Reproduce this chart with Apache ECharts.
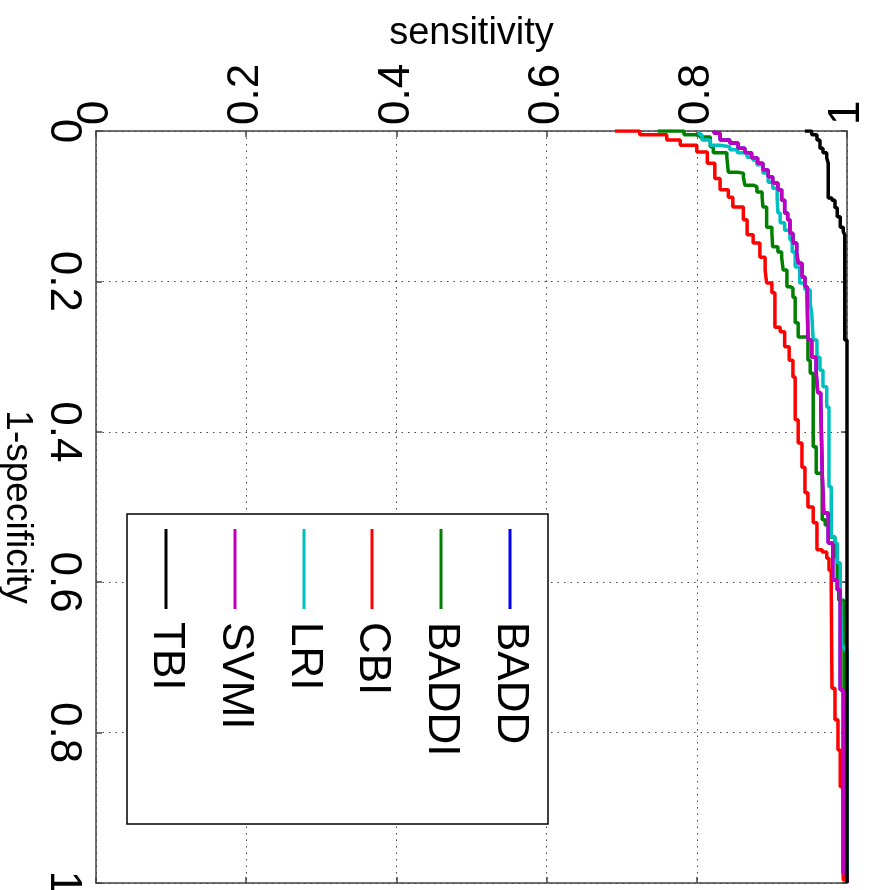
<!DOCTYPE html>
<html>
<head>
<meta charset="utf-8">
<script src="https://cdn.jsdelivr.net/npm/echarts@6/dist/echarts.min.js"></script>
<style>html,body{margin:0;padding:0;background:#fff;}#chart{width:877px;height:890px;}</style>
</head>
<body>
<div id="chart"></div>
<script>
// Data: each point is [sensitivity, 1-specificity]
const seriesNames = ['BADD', 'BADDI', 'CBI', 'LRI', 'SVMI', 'TBI'];
const seriesColors = ['#0000ff', '#008000', '#ff0000', '#00bfbf', '#bf00bf', '#000000'];
const axisTicks = [0, 0.2, 0.4, 0.6, 0.8, 1];
const axisTickLabels = ['0', '0.2', '0.4', '0.6', '0.8', '1'];

const svmi = [[0.822,0],[0.824,0.003],[0.831,0.012],[0.844,0.016],[0.855,0.023],[0.864,0.029],[0.873,0.036],[0.881,0.043],[0.888,0.052],[0.895,0.061],[0.901,0.069],[0.908,0.078],[0.913,0.092],[0.917,0.109],[0.921,0.118],[0.924,0.136],[0.928,0.149],[0.933,0.162],[0.935,0.176],[0.940,0.194],[0.944,0.207],[0.947,0.221],[0.948,0.278],[0.953,0.301],[0.959,0.322],[0.961,0.348],[0.965,0.358],[0.967,0.455],[0.969,0.508],[0.975,0.548],[0.981,0.597],[0.987,0.610],[0.991,0.743],[0.995,0.987],[1,1]];
const badd = [[0.822,0],[0.824,0.003],[0.831,0.012],[0.844,0.016],[0.855,0.023],[0.864,0.029],[0.873,0.036],[0.881,0.043],[0.888,0.052],[0.895,0.061],[0.901,0.069],[0.908,0.078],[0.913,0.092],[0.917,0.109],[0.921,0.118],[0.924,0.136],[0.928,0.149],[0.933,0.162],[0.935,0.176],[0.940,0.194],[0.944,0.207],[0.947,0.221],[0.948,0.278],[0.953,0.301],[0.959,0.322],[0.961,0.348],[0.965,0.358],[0.967,0.455],[0.969,0.508],[0.975,0.548],[0.981,0.597],[0.987,0.610],[0.991,0.743],[0.995,0.987],[1,1]];
const baddi = [[0.748,0],[0.780,0],[0.783,0.005],[0.800,0.005],[0.804,0.008],[0.818,0.021],[0.822,0.029],[0.840,0.035],[0.842,0.055],[0.854,0.056],[0.862,0.061],[0.864,0.072],[0.875,0.074],[0.880,0.081],[0.887,0.088],[0.888,0.101],[0.893,0.114],[0.893,0.128],[0.900,0.136],[0.901,0.154],[0.908,0.161],[0.913,0.168],[0.915,0.185],[0.920,0.207],[0.924,0.209],[0.928,0.221],[0.931,0.255],[0.935,0.274],[0.941,0.274],[0.948,0.282],[0.948,0.305],[0.951,0.322],[0.955,0.324],[0.955,0.420],[0.959,0.427],[0.959,0.455],[0.964,0.455],[0.967,0.464],[0.967,0.517],[0.971,0.524],[0.977,0.540],[0.984,0.547],[0.984,0.566],[0.987,0.570],[0.987,0.597],[0.989,0.601],[0.989,0.624],[0.996,0.641],[0.996,0.741],[1,0.746],[1,1]];
const cbi = [[0.691,0],[0.724,0.005],[0.760,0.012],[0.778,0.019],[0.800,0.028],[0.814,0.043],[0.824,0.063],[0.831,0.078],[0.842,0.088],[0.848,0.101],[0.862,0.118],[0.867,0.138],[0.875,0.149],[0.884,0.168],[0.891,0.185],[0.893,0.202],[0.900,0.215],[0.904,0.238],[0.904,0.261],[0.911,0.267],[0.917,0.287],[0.923,0.305],[0.928,0.327],[0.931,0.384],[0.935,0.415],[0.940,0.447],[0.944,0.481],[0.948,0.500],[0.955,0.508],[0.955,0.521],[0.960,0.557],[0.967,0.560],[0.973,0.568],[0.976,0.584],[0.979,0.606],[0.980,0.741],[0.984,0.783],[0.988,0.823],[0.991,0.872],[0.995,0.996],[1,1]];
const lri = [[0.802,0],[0.804,0.005],[0.807,0.012],[0.818,0.019],[0.831,0.021],[0.844,0.025],[0.854,0.029],[0.867,0.035],[0.875,0.039],[0.880,0.045],[0.888,0.056],[0.895,0.068],[0.901,0.076],[0.907,0.088],[0.908,0.109],[0.911,0.122],[0.917,0.132],[0.924,0.145],[0.927,0.161],[0.931,0.181],[0.937,0.202],[0.944,0.211],[0.951,0.229],[0.953,0.242],[0.955,0.278],[0.960,0.282],[0.960,0.301],[0.964,0.318],[0.968,0.340],[0.973,0.367],[0.976,0.473],[0.979,0.540],[0.984,0.548],[0.987,0.574],[0.991,0.610],[0.993,0.686],[0.997,0.690],[1,0.743],[1,1]];
const tbi = [[0.944,0],[0.953,0.005],[0.960,0.012],[0.964,0.023],[0.968,0.029],[0.973,0.036],[0.975,0.043],[0.975,0.089],[0.980,0.092],[0.984,0.102],[0.987,0.114],[0.991,0.128],[0.995,0.134],[0.997,0.138],[0.997,0.278],[1,0.281],[1,1]];

const seriesData = [badd, baddi, cbi, lri, svmi, tbi];

const FONT = '"Liberation Sans", Arial, Helvetica, sans-serif';
const chart = echarts.init(document.getElementById('chart'), null, {renderer: 'canvas', width: 877, height: 890});

const G = {left: 96, top: 131, width: 751, height: 752};
const axisColor = '#444';
const fmt = v => { const i = axisTicks.findIndex(t => Math.abs(t - v) < 1e-9); return i >= 0 ? axisTickLabels[i] : ''; };

const legendCols = [510, 441, 372, 304, 235, 166];
const legendGraphics = [{
  type: 'rect', shape: {x: 127, y: 514, width: 421, height: 310},
  style: {fill: '#fff', stroke: '#000', lineWidth: 1.5}, z: 100
}];
seriesNames.forEach((n, i) => {
  legendGraphics.push({type: 'line', shape: {x1: legendCols[i], y1: 529, x2: legendCols[i], y2: 609},
    style: {stroke: seriesColors[i], lineWidth: 3}, z: 101});
  legendGraphics.push({type: 'text', x: legendCols[i], y: 622, rotation: -Math.PI / 2,
    style: {text: n, fontSize: 44, fontFamily: FONT, fill: '#000', align: 'left', verticalAlign: 'middle'}, z: 101});
});

chart.setOption({
  animation: false,
  backgroundColor: '#fff',
  grid: {left: G.left, top: G.top, width: G.width, height: G.height, containLabel: false, outerBoundsMode: 'none'},
  xAxis: [{
    type: 'value', min: 0, max: 1, interval: 0.2, position: 'top',
    name: 'sensitivity', nameLocation: 'middle', nameGap: 78, nameMoveOverlap: false,
    nameTextStyle: {fontSize: 38, fontFamily: FONT, color: '#000'},
    axisLine: {show: true, onZero: false, lineStyle: {color: axisColor, width: 1.5}},
    axisTick: {show: true, inside: true, length: 6, lineStyle: {color: axisColor, width: 1.5}},
    axisLabel: {rotate: -90, margin: 6, fontSize: 44, fontFamily: FONT, color: '#000', formatter: fmt},
    splitLine: {show: true, lineStyle: {type: [1.5, 5], color: '#444', width: 1}}
  }, {
    type: 'value', min: 0, max: 1, interval: 0.2, position: 'bottom',
    axisLine: {show: true, onZero: false, lineStyle: {color: axisColor, width: 1.5}},
    axisTick: {show: true, inside: true, length: 6, lineStyle: {color: axisColor, width: 1.5}},
    axisLabel: {show: false}, splitLine: {show: false}
  }],
  yAxis: [{
    type: 'value', min: 0, max: 1, interval: 0.2, inverse: true, position: 'left',
    name: '1-specificity', nameLocation: 'middle', nameGap: 60, nameRotate: -90, nameMoveOverlap: false,
    nameTextStyle: {fontSize: 37, fontFamily: FONT, color: '#000'},
    axisLine: {show: true, onZero: false, lineStyle: {color: axisColor, width: 1.5}},
    axisTick: {show: true, inside: true, length: 6, lineStyle: {color: axisColor, width: 1.5}},
    axisLabel: {rotate: -90, margin: 11, fontSize: 44, fontFamily: FONT, color: '#000', formatter: fmt},
    splitLine: {show: true, lineStyle: {type: [1.5, 5], color: '#444', width: 1}}
  }, {
    type: 'value', min: 0, max: 1, interval: 0.2, inverse: true, position: 'right',
    axisLine: {show: true, onZero: false, lineStyle: {color: axisColor, width: 1.5}},
    axisTick: {show: true, inside: true, length: 6, lineStyle: {color: axisColor, width: 1.5}},
    axisLabel: {show: false}, splitLine: {show: false}
  }],
  series: seriesNames.map((n, i) => ({
    name: n, type: 'line', xAxisIndex: 0, yAxisIndex: 0,
    data: seriesData[i], showSymbol: false, symbol: 'none', step: 'end',
    lineStyle: {color: seriesColors[i], width: 3.5}, itemStyle: {color: seriesColors[i]},
    z: 3 + i
  })),
  graphic: legendGraphics
});
</script>
</body>
</html>
